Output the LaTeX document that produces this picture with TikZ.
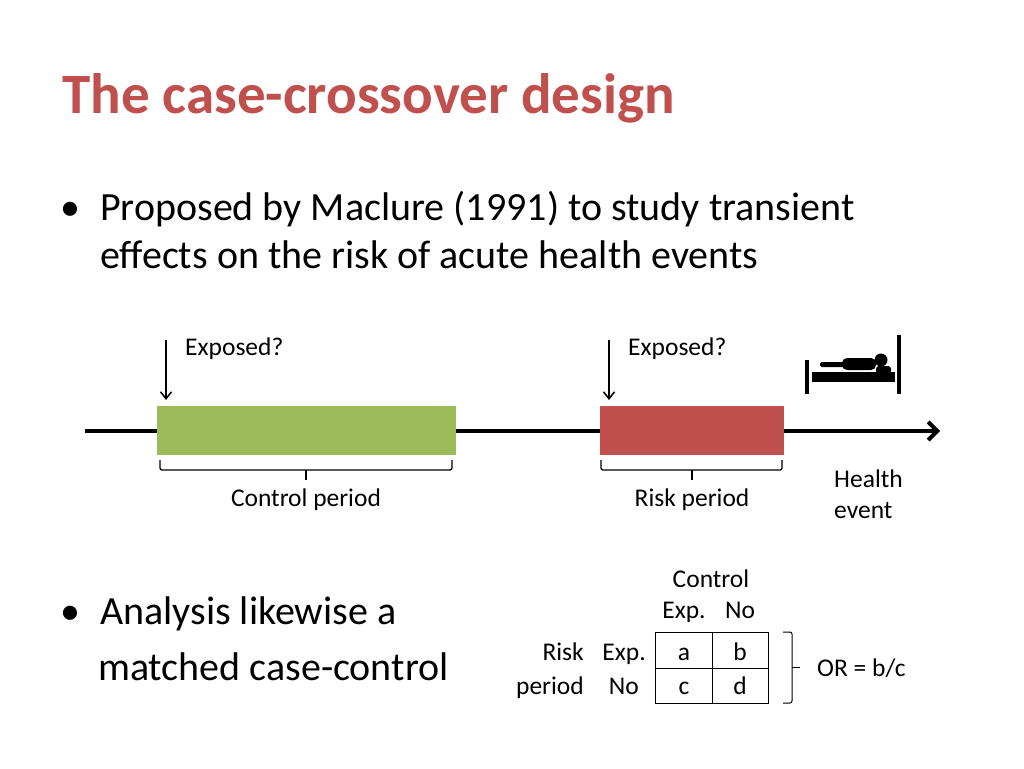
\documentclass[tikz,border=0pt]{standalone}
\usepackage{fontspec}
\setmainfont{Carlito}
\usetikzlibrary{arrows.meta}
\definecolor{titlered}{HTML}{C0504D}
\definecolor{boxgreen}{HTML}{9BBB59}
\definecolor{boxred}{HTML}{C0504D}
\tikzset{
  x=1pt,y=-1pt,
  titletext/.style={anchor=base west,inner sep=0,font=\fontsize{57}{64}\selectfont\bfseries,text=titlered},
  bodytext/.style={anchor=base west,inner sep=0,font=\fontsize{40}{48}\selectfont},
  bullettext/.style={anchor=base west,inner sep=0,font=\fontsize{40}{48}\selectfont},
  smalltext/.style={anchor=base,inner sep=0,font=\fontsize{25.5}{30}\selectfont},
  smallw/.style={anchor=base west,inner sep=0,font=\fontsize{25.5}{30}\selectfont},
  smalle/.style={anchor=base east,inner sep=0,font=\fontsize{25.5}{30}\selectfont},
  period/.style={draw=none,inner sep=0,anchor=north west},
  brace/.style={line width=1.3pt,rounded corners=2pt},
  probe/.style={line width=1.5pt,-{Straight Barb[length=7pt,width=11pt,line width=1.5pt]}},
  cell/.style={anchor=base,inner sep=0,font=\fontsize{25.5}{30}\selectfont},
}
\begin{document}
\begin{tikzpicture}
\useasboundingbox (0,0) rectangle (1024,768);
\fill[white] (0,0) rectangle (1024,768);

% title
\node[titletext] (title) at (62,113) {The case-crossover design};

% bullet 1
\node[bullettext] (b1) at (60,220) {•};
\node[bodytext] (l1) at (100,220) {Proposed by Maclure (1991) to study transient};
\node[bodytext] (l2) at (100,268) {effects on the risk of acute health events};

% timeline
\coordinate (tl0) at (85,431);
\coordinate (tl1) at (940,431);
\draw[line width=4pt,-{Straight Barb[length=9pt,width=18pt,line width=4pt]}] (tl0) -- (tl1);

% periods
\node[period,fill=boxgreen,minimum width=299pt,minimum height=49pt] (ctrl) at (157,406) {};
\node[period,fill=boxred,minimum width=184pt,minimum height=49pt] (risk) at (600,406) {};

% exposure probes
\coordinate (p1) at (166,340);
\coordinate (p2) at (609,340);
\draw[probe] (p1) -- ([yshift=6pt]p1 |- ctrl.north);
\draw[probe] (p2) -- ([yshift=6pt]p2 |- risk.north);
\node[smallw] (e1) at (185,355) {Exposed?};
\node[smallw] (e2) at (628,355) {Exposed?};

% braces under periods
\draw[brace] (160,460) |- (306,470) -| (452,460);
\draw[brace] (306,470) -- (306,480);
\draw[brace] (601,460) |- (692,470) -| (782,460);
\draw[brace] (692,470) -- (692,480);
\node[smalltext] (cl) at (306,506) {Control period};
\node[smalltext] (rl) at (692,506) {Risk period};

% health event
\node[smallw] (he1) at (834,487) {Health};
\node[smallw] (he2) at (834,518) {event};

% bed icon
\draw[line width=4pt] (807,360) -- (807,394);
\draw[line width=4pt] (899,335) -- (899,394);
\fill (812,372) rectangle (895,382);
\fill[rounded corners=1.5pt] (820,362) rectangle (852,367);
\fill[rounded corners=5pt] (842,358) rectangle (876,370);
\fill (881,360) circle (6.5);
\fill[rounded corners=3pt] (876,366) rectangle (891,374);

% bullet 2
\node[bullettext] (b2) at (60,624) {•};
\node[bodytext] (l3) at (100,624) {Analysis likewise a};
\node[bodytext] (l4) at (98,680) {matched case-control};

% 2x2 table
\draw[line width=1pt] (655,632) rectangle (768,703);
\draw[line width=1pt] (712,632) -- (712,703);
\draw[line width=1pt] (655,668) -- (768,668);
\node[cell] (ca) at (684,660) {a};
\node[cell] (cb) at (740,660) {b};
\node[cell] (cc) at (684,694) {c};
\node[cell] (cd) at (740,694) {d};
\node[cell] (hc) at (711,587) {Control};
\node[cell] (he) at (684,618) {Exp.};
\node[cell] (hn) at (740,618) {No};
\node[smalle] (rr) at (584,660) {Risk};
\node[smalle] (rp) at (584,694) {period};
\node[smalle] (re) at (646,660) {Exp.};
\node[smalle] (rn) at (639,694) {No};

% right brace
\draw[line width=1pt,rounded corners=2pt] (783,632) -| (792,667) |- (783,703);
\draw[line width=1pt] (792,667) -- (800,667);
\node[smallw] (or) at (817,676) {OR = b/c};
\end{tikzpicture}
\end{document}
